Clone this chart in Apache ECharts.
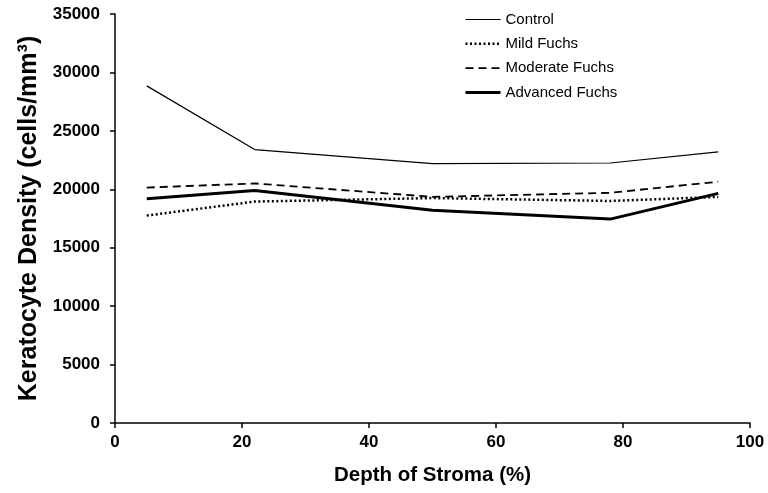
<!DOCTYPE html>
<html>
<head>
<meta charset="utf-8">
<script src="https://cdn.jsdelivr.net/npm/echarts@6/dist/echarts.min.js"></script>
<style>html,body{margin:0;padding:0;background:#fff}#c{width:768px;height:493px}</style>
</head>
<body>
<div id="c"></div>
<script>
const depth = [5, 22, 50, 78, 95];
const control = [28850, 23400, 22200, 22250, 23200];
const mild = [17750, 18950, 19250, 19000, 19350];
const moderate = [20150, 20500, 19350, 19700, 20650];
const advanced = [19200, 19900, 18200, 17450, 19650];
const seriesNames = ['Control', 'Mild Fuchs', 'Moderate Fuchs', 'Advanced Fuchs'];

const font = '"Liberation Sans", Arial, Helvetica, sans-serif';
function pairs(vals) { return depth.map((d, i) => [d, vals[i]]); }

const lineStyles = [
  {color: '#000', width: 1.2, type: 'solid'},
  {color: '#000', width: 2.5, type: [2, 2.5]},
  {color: '#000', width: 1.8, type: [8, 5]},
  {color: '#000', width: 3, type: 'solid'}
];
const seriesData = [control, mild, moderate, advanced];

const chart = echarts.init(document.getElementById('c'), null, {renderer: 'canvas'});
chart.setOption({
  animation: false,
  backgroundColor: '#fff',
  grid: {left: 115, right: 18, top: 14, bottom: 70, containLabel: false},
  legend: {
    orient: 'vertical', left: 459, top: 7,
    itemWidth: 35, itemHeight: 14, itemGap: 9.3,
    itemStyle: {opacity: 0},
    textStyle: {fontFamily: font, fontSize: 15, color: '#000'},
    data: seriesNames.map((n, i) => ({name: n, lineStyle: Object.assign({}, lineStyles[i])}))
  },
  xAxis: {
    type: 'value', min: 0, max: 100, interval: 20,
    name: 'Depth of Stroma (%)', nameLocation: 'middle', nameGap: 42,
    nameTextStyle: {fontFamily: font, fontSize: 20.5, fontWeight: 'bold', color: '#000'},
    axisLine: {show: true, lineStyle: {color: '#000', width: 1.5}},
    axisTick: {show: true, length: 5, lineStyle: {color: '#000', width: 1.5}},
    axisLabel: {fontFamily: font, fontSize: 17, fontWeight: 'bold', color: '#000', margin: 11},
    splitLine: {show: false}
  },
  yAxis: {
    type: 'value', min: 0, max: 35000, interval: 5000,
    name: 'Keratocyte Density (cells/mm³)', nameLocation: 'middle', nameGap: 70, nameRotate: 90,
    nameTextStyle: {fontFamily: font, fontSize: 25, fontWeight: 'bold', color: '#000'},
    axisLine: {show: true, lineStyle: {color: '#000', width: 1.5}},
    axisTick: {show: true, length: 5, lineStyle: {color: '#000', width: 1.5}},
    axisLabel: {fontFamily: font, fontSize: 17, fontWeight: 'bold', color: '#000', margin: 15,
      formatter: v => String(v)},
    splitLine: {show: false}
  },
  series: seriesNames.map((n, i) => ({
    name: n, type: 'line', data: pairs(seriesData[i]), symbol: 'none',
    lineStyle: lineStyles[i], itemStyle: {color: '#000'}
  }))
});
</script>
</body>
</html>
